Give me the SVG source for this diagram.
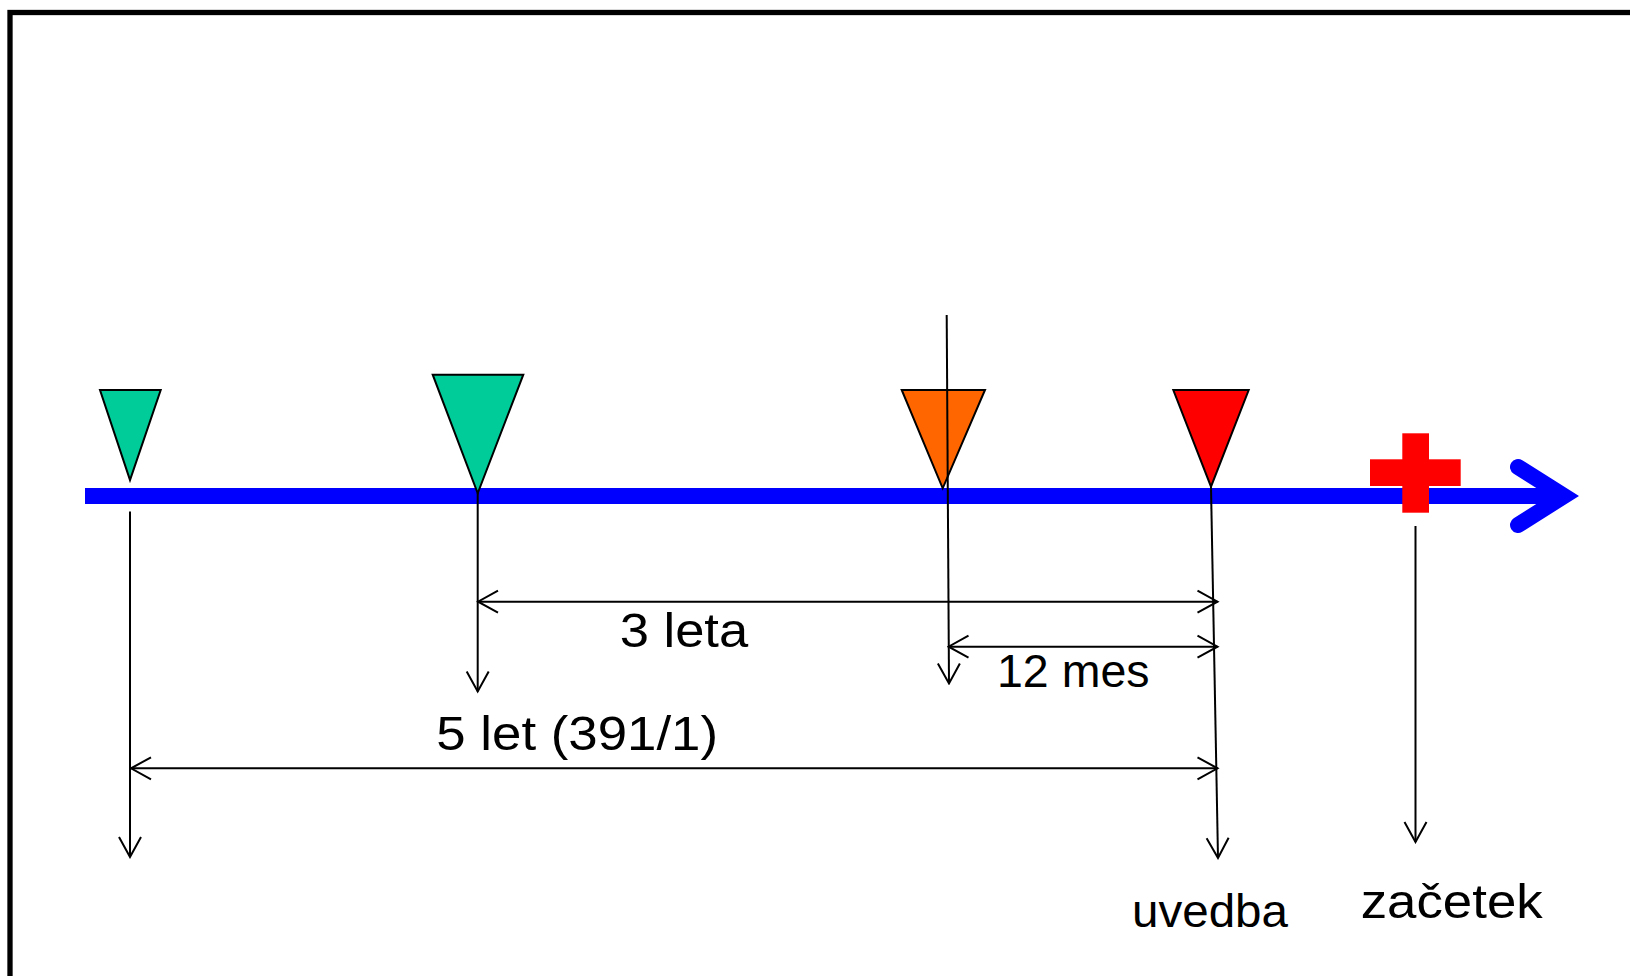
<svg xmlns="http://www.w3.org/2000/svg" width="1630" height="976" viewBox="0 0 1630 976">
  <style>
    .tri { stroke: #000; stroke-width: 2; stroke-linejoin: miter; }
    .ln { fill: none; stroke: #000; stroke-width: 2; }
    .arr { marker-end: url(#ah); }
    .dbl { marker-start: url(#ah); marker-end: url(#ah); }
    .lbl { font-family: "Liberation Sans", Arial, sans-serif; fill: #000; }
  </style>
  <defs>
    <marker id="ah" viewBox="-24 -13 26 26" refX="0" refY="0" markerWidth="26" markerHeight="26" markerUnits="userSpaceOnUse" orient="auto-start-reverse">
      <path d="M-20,-11 L0,0 L-20,11" fill="none" stroke="#000" stroke-width="2"/>
    </marker>
  </defs>
  <rect width="1630" height="976" fill="#fff"/>
  <rect id="frame" x="10" y="12.5" width="1700" height="1100" fill="none" stroke="#000" stroke-width="5.3"/>

  <g id="timeline">
    <line x1="85" y1="496" x2="1565" y2="496" stroke="#0000ff" stroke-width="16"/>
    <path d="M1518,467 L1564,496 L1518,525" fill="none" stroke="#0000ff" stroke-width="16" stroke-linecap="round" stroke-linejoin="miter"/>
  </g>

  <g id="marker-green-small">
    <polygon class="tri" points="100,390 160.7,390 130,480" fill="#00cc99"/>
  </g>
  <g id="marker-green-large">
    <polygon class="tri" points="432.7,374.7 523.3,374.7 477.7,493.3" fill="#00cc99"/>
  </g>
  <g id="marker-orange">
    <polygon class="tri" points="901.7,390 985,390 942.7,488.3" fill="#ff6600"/>
  </g>
  <g id="marker-red">
    <polygon class="tri" points="1173.3,390 1248.7,390 1211,486.7" fill="#ff0000"/>
  </g>
  <g id="cross">
    <rect x="1402.3" y="433.3" width="26.7" height="79.4" fill="#ff0000"/>
    <rect x="1370" y="459.3" width="90.7" height="26.7" fill="#ff0000"/>
  </g>

  <g id="connectors">
    <line class="ln arr" x1="130" y1="511.5" x2="130" y2="857"/>
    <line class="ln arr" x1="477.7" y1="493" x2="477.7" y2="691.5"/>
    <line class="ln arr" x1="946.7" y1="315" x2="949" y2="683.5"/>
    <line class="ln arr" x1="1211" y1="487" x2="1218" y2="858"/>
    <line class="ln arr" x1="1415.5" y1="526" x2="1415.5" y2="842"/>
    <line class="ln dbl" x1="478" y1="601.7" x2="1217.5" y2="601.7"/>
    <line class="ln dbl" x1="948.5" y1="646.7" x2="1217.5" y2="646.7"/>
    <line class="ln dbl" x1="131" y1="768.3" x2="1217.5" y2="768.3"/>
  </g>

  <g id="labels">
    <text class="lbl" x="619.7" y="647" font-size="49" textLength="128.5" lengthAdjust="spacingAndGlyphs">3 leta</text>
    <text class="lbl" x="997" y="687" font-size="46.5">12 mes</text>
    <text class="lbl" x="436.3" y="750" font-size="49" textLength="281.7" lengthAdjust="spacingAndGlyphs">5 let (391/1)</text>
    <text class="lbl" x="1132" y="927" font-size="46.5" textLength="156" lengthAdjust="spacingAndGlyphs">uvedba</text>
    <text class="lbl" x="1360.7" y="918.3" font-size="49" textLength="182" lengthAdjust="spacingAndGlyphs">začetek</text>
  </g>
</svg>
